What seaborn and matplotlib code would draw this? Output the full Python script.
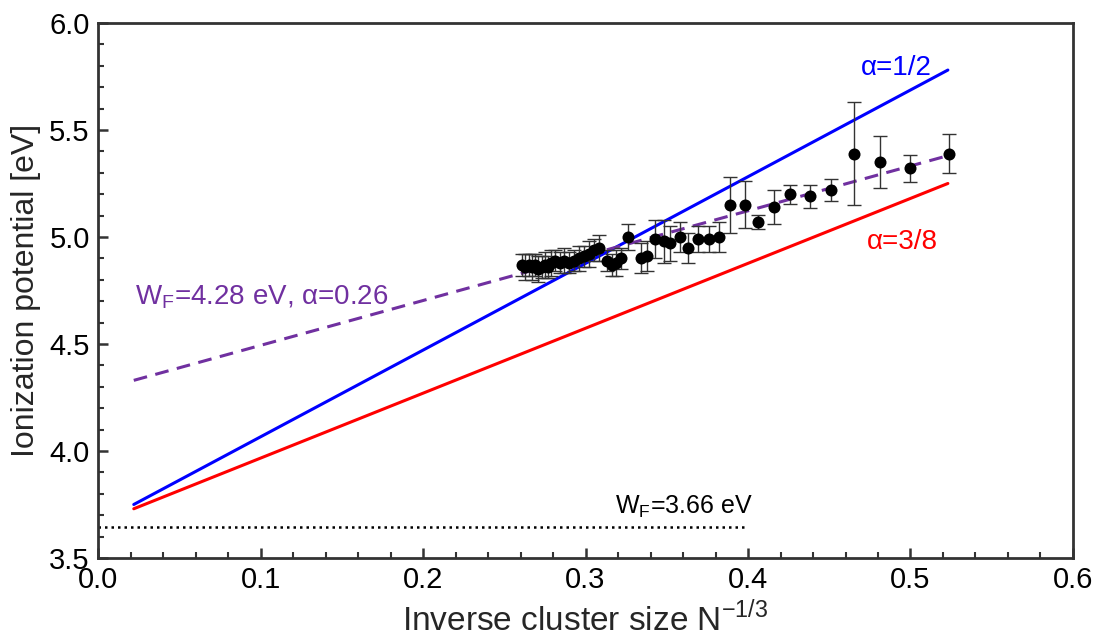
import matplotlib
matplotlib.use("Agg")
import matplotlib.pyplot as plt
import seaborn as sns
import pandas as pd
from matplotlib.ticker import MultipleLocator

# measured ionization potentials
inv_size = [0.261, 0.263, 0.265, 0.267, 0.269, 0.271, 0.273, 0.275, 0.277, 0.279,
            0.281, 0.284, 0.287, 0.290, 0.293, 0.296, 0.299, 0.302, 0.305, 0.308,
            0.313, 0.316, 0.319, 0.322, 0.326, 0.334, 0.338, 0.343, 0.348, 0.352,
            0.358, 0.363, 0.369, 0.376, 0.382, 0.389, 0.398, 0.406, 0.416, 0.426,
            0.438, 0.451, 0.465, 0.481, 0.500, 0.524]
ip = [4.87, 4.86, 4.87, 4.86, 4.87, 4.85, 4.86, 4.87, 4.86, 4.88,
      4.89, 4.88, 4.89, 4.88, 4.89, 4.90, 4.91, 4.92, 4.94, 4.95,
      4.89, 4.87, 4.88, 4.90, 5.00, 4.90, 4.91, 4.99, 4.98, 4.97,
      5.00, 4.95, 4.99, 4.99, 5.00, 5.15, 5.15, 5.07, 5.14, 5.20,
      5.19, 5.22, 5.39, 5.35, 5.32, 5.39]
ip_err = [0.05, 0.06, 0.05, 0.06, 0.05, 0.06, 0.05, 0.06, 0.05, 0.06,
          0.05, 0.05, 0.06, 0.05, 0.05, 0.06, 0.05, 0.06, 0.05, 0.06,
          0.05, 0.05, 0.06, 0.05, 0.06, 0.07, 0.07, 0.09, 0.10, 0.08,
          0.07, 0.07, 0.06, 0.06, 0.07, 0.13, 0.11, 0.035, 0.08, 0.045,
          0.055, 0.05, 0.24, 0.12, 0.063, 0.09]

# model lines
line_x = [0.022, 0.523]
alpha_half = [3.75, 5.78]
alpha_38 = [3.73, 5.25]
fit_026 = [4.33, 5.38]
wf_x = [0.0, 0.4]
wf_y = [3.645, 3.645]

sns.set_style("ticks")
plt.rcParams["font.family"] = ["Liberation Sans", "DejaVu Sans"]
plt.rcParams["mathtext.fontset"] = "custom"
plt.rcParams["mathtext.rm"] = "Liberation Sans"

fig = plt.figure(figsize=(10.94, 6.38), dpi=100)
ax = fig.add_axes([0.0896, 0.1254, 0.8912, 0.8386])

sns.lineplot(x=line_x, y=alpha_half, color="#0000FF", linewidth=2.2, ax=ax)
sns.lineplot(x=line_x, y=alpha_38, color="#FF0000", linewidth=2.2, ax=ax)
sns.lineplot(x=line_x, y=fit_026, color="#7030A0", linewidth=2.2, ax=ax,
             dashes=False, linestyle=(0, (4.5, 2.8)))
sns.lineplot(x=wf_x, y=wf_y, color="black", linewidth=1.8, ax=ax,
             linestyle=(0, (1, 1.6)))

ax.errorbar(inv_size, ip, yerr=ip_err, fmt="none", ecolor="#333333",
            elinewidth=1.0, capsize=5, capthick=1.0, zorder=3)
df = pd.DataFrame({"x": inv_size, "y": ip})
sns.scatterplot(data=df, x="x", y="y", color="black", s=75, edgecolor="black",
                linewidth=0, ax=ax, zorder=4)

ax.text(0.491, 5.79, r"α=1/2", color="#0000FF", fontsize=20, ha="center", va="center")
ax.text(0.495, 4.975, r"α=3/8", color="#FF0000", fontsize=20, ha="center", va="center")
ax.text(0.023, 4.72, r"W$_\mathregular{F}$=4.28 eV, α=0.26", color="#7030A0",
        fontsize=20, ha="left", va="center")
ax.text(0.318, 3.74, r"W$_\mathregular{F}$=3.66 eV", color="black",
        fontsize=18, ha="left", va="center")

ax.set_xlim(0.0, 0.6)
ax.set_ylim(3.5, 6.0)
ax.xaxis.set_major_locator(MultipleLocator(0.1))
ax.xaxis.set_minor_locator(MultipleLocator(0.02))
ax.yaxis.set_major_locator(MultipleLocator(0.5))
ax.yaxis.set_minor_locator(MultipleLocator(0.1))
ax.set_xticklabels([f"{v:.1f}" for v in ax.get_xticks()])
ax.set_yticklabels([f"{v:.1f}" for v in ax.get_yticks()])

ax.tick_params(which="major", direction="in", length=7, width=1.8,
               colors="#333333", labelcolor="black", labelsize=21, pad=6)
ax.tick_params(which="minor", direction="in", length=4, width=1.5, colors="#333333")
for sp in ax.spines.values():
    sp.set_visible(True)
    sp.set_linewidth(2)
    sp.set_color("#333333")

ax.set_xlabel(r"Inverse cluster size N$^\mathregular{-1/3}$", fontsize=24, labelpad=5)
ax.set_ylabel("Ionization potential [eV]", fontsize=23, labelpad=6)

fig.savefig("out.png", dpi=100)
